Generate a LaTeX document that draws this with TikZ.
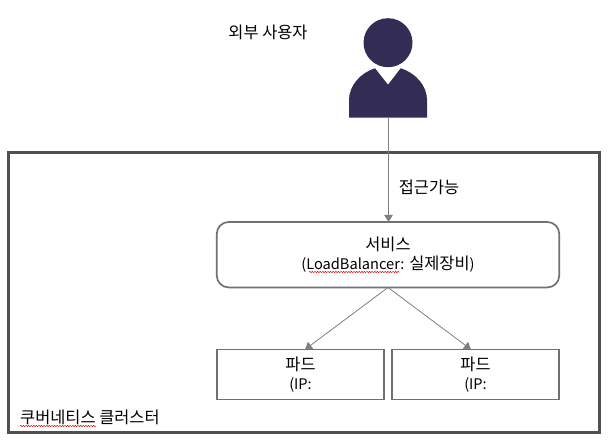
\documentclass[tikz,border=0pt]{standalone}
\usepackage{fontspec}
\setmainfont{Noto Sans CJK KR}
\newfontfamily\latinpart[Scale=0.89]{Noto Sans CJK KR}
\usetikzlibrary{calc,arrows.meta,decorations.pathmorphing}

\definecolor{userColor}{HTML}{332C54}
\definecolor{clusterColor}{HTML}{505050}
\definecolor{boxColor}{HTML}{717171}
\definecolor{linkColor}{HTML}{7F7F7F}

\tikzset{
  textsize/.style={font=\fontsize{16.4}{19.5}\selectfont},
  box/.style={textsize,draw=boxColor,line width=1.7pt,align=center,inner sep=0pt,outer sep=0pt},
  link/.style={draw=linkColor,line width=1pt,-{Triangle[width=8.5pt,length=7pt]}},
  squiggle/.style={draw=red!85!black,line width=0.5pt,decorate,decoration={snake,segment length=2.6pt,amplitude=0.6pt}},
  label/.style={textsize,inner sep=0pt,align=center}
}

\begin{document}
\begin{tikzpicture}[x=1pt,y=-1pt]
  \useasboundingbox (0,0) rectangle (609,447);

  %% Cluster frame
  \node[draw=clusterColor,line width=3pt,minimum width=590.5pt,minimum height=280pt,inner sep=0pt] (CLUSTER) at (303.75,292.3) {};
  \node[label,anchor=west] (CLUSTERLABEL) at (20,417.5) {쿠버네티스 클러스터};

  %% User figure
  \fill[userColor] (388,42.7) circle (24.5);
  \fill[userColor] (349,117.7) -- (349,100) .. controls (349,86) and (360,73) .. (375,68.3)
    -- (388,84.7) -- (400.7,68.3) .. controls (416,73) and (427,86) .. (427,100) -- (427,117.7) -- cycle;
  \coordinate (USERFOOT) at (388.5,117.7);
  \node[label] (USERLABEL) at (268,32.5) {외부 사용자};

  %% Service and pods
  \node[box,rounded corners=12pt,minimum width=342.5pt,minimum height=65.5pt] (SERVICE) at (388,254.7) {서비스\\{\latinpart(LoadBalancer:} 실제장비{\latinpart)}};
  \node[box,minimum width=167pt,minimum height=50pt] (PODL) at (300.5,374.5) {파드\\{\latinpart(IP:}};
  \node[box,minimum width=167.5pt,minimum height=50pt] (PODR) at (475.5,374.5) {파드\\{\latinpart(IP:}};

  %% Connectors
  \draw[link] (USERFOOT) -- (USERFOOT|-SERVICE.north);
  \node[label] (ACCESS) at (429,187.5) {접근가능};
  \draw[link,line width=0.8pt] (SERVICE.south) -- ($(PODL.north)+(4.5,0)$);
  \draw[link,line width=0.8pt] (SERVICE.south) -- ($(PODR.north)+(-4.5,0)$);

  %% Spell check marks
  \coordinate (SQA) at (20,426);
  \coordinate (SQB) at (96,426);
  \coordinate (SQC) at (309,272);
  \coordinate (SQD) at (399.5,272);
  \draw[squiggle] (SQA) -- (SQB);
  \draw[squiggle] (SQC) -- (SQD);
\end{tikzpicture}
\end{document}
